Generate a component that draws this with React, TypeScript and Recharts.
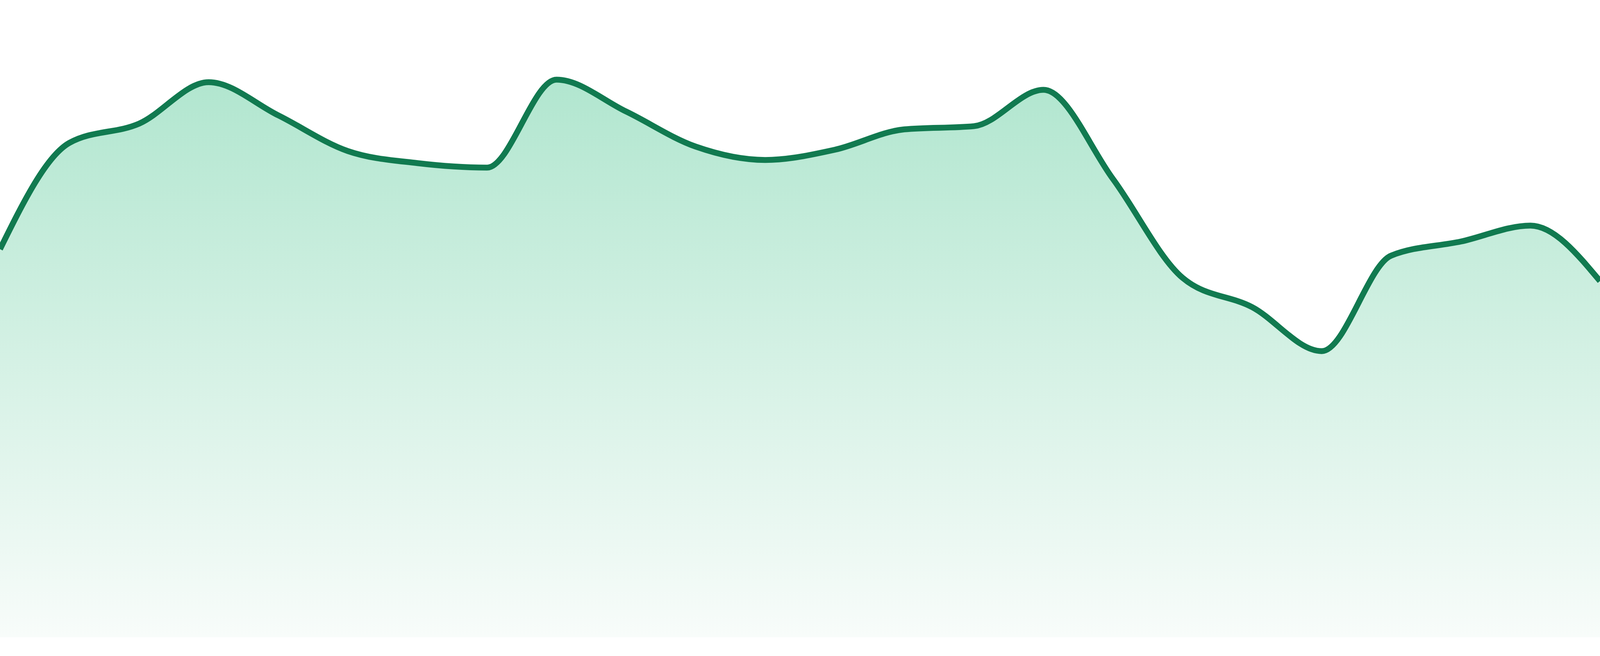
import React from "react";
import { AreaChart, Area, XAxis, YAxis } from "recharts";

const categories: string[] = [
  "1", "2", "3", "4", "5", "6", "7", "8", "9", "10", "11", "12",
  "13", "14", "15", "16", "17", "18", "19", "20", "21", "22", "23", "24",
];

const values: number[] = [
  60.9, 77.6, 80.6, 87.1, 81.9, 76.3, 74.4, 73.7, 87.5, 82.5, 77.0, 74.9,
  76.5, 79.7, 80.2, 85.9, 71.9, 56.4, 51.8, 44.9, 59.9, 62.1, 64.6, 55.9,
];

const yDomain: [number, number] = [0, 100];

const data = categories.map((c, i) => ({ label: c, value: values[i] }));

const CHART_W = typeof window !== "undefined" && window.innerWidth > 0 ? Math.min(4800, window.innerWidth) : 4800;
const CHART_H = 1680;

export default function App() {
  return (
    <div style={{ position: "fixed", left: 0, top: 0, width: CHART_W, height: CHART_H, background: "#ffffff" }}>
      <AreaChart
        width={CHART_W}
        height={CHART_H}
        data={data}
        margin={{ top: 0, right: 0, bottom: 48, left: 0 }}
      >
        <defs>
          <linearGradient id="areaFill" x1="0" y1="0" x2="0" y2="1">
            <stop offset="0%" stopColor="#b1e6cf" stopOpacity={1} />
            <stop offset="100%" stopColor="#f8fcfa" stopOpacity={1} />
          </linearGradient>
        </defs>
        <XAxis dataKey="label" hide />
        <YAxis domain={yDomain} hide />
        <Area
          type="monotone"
          dataKey="value"
          stroke="#117a50"
          strokeWidth={15}
          fill="url(#areaFill)"
          fillOpacity={1}
          dot={false}
          activeDot={false}
          isAnimationActive={false}
        />
      </AreaChart>
    </div>
  );
}
